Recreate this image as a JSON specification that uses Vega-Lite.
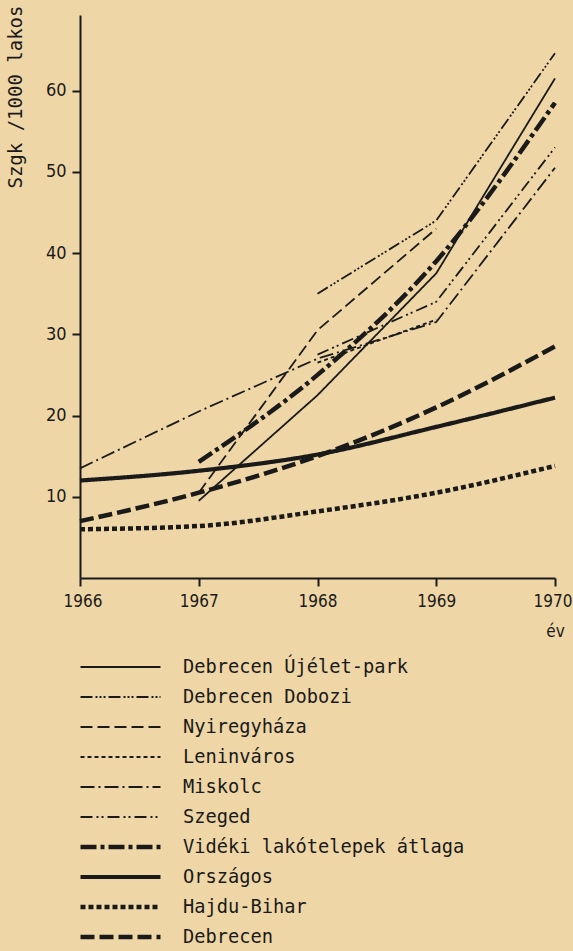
{
  "$schema": "https://vega.github.io/schema/vega-lite/v6.json",
  "autosize": "none",
  "padding": {"left": 80, "top": 15, "right": 18, "bottom": 373},
  "width": 475,
  "height": 563,
  "background": "#efd6a6",
  "config": {
    "view": {"stroke": null},
    "font": "DejaVu Sans Condensed, DejaVu Sans",
    "axis": {
      "grid": false,
      "domainColor": "#1a1a1a",
      "domainWidth": 2,
      "tickColor": "#1a1a1a",
      "tickWidth": 2,
      "tickSize": 8,
      "labelColor": "#1a1a1a",
      "titleColor": "#1a1a1a",
      "labelFont": "DejaVu Sans Condensed, DejaVu Sans",
      "titleFont": "DejaVu Sans Mono, DejaVu Sans",
      "titleFontWeight": "normal"
    }
  },
  "data": {
    "values": [
      {"series": "Debrecen Újélet-park", "year": 1967, "value": 9.5},
      {"series": "Debrecen Újélet-park", "year": 1968, "value": 22.5},
      {"series": "Debrecen Újélet-park", "year": 1969, "value": 37.5},
      {"series": "Debrecen Újélet-park", "year": 1970, "value": 61.5},
      {"series": "Debrecen Dobozi", "year": 1968, "value": 35},
      {"series": "Debrecen Dobozi", "year": 1969, "value": 44},
      {"series": "Debrecen Dobozi", "year": 1970, "value": 64.6},
      {"series": "Nyiregyháza", "year": 1967, "value": 10.5},
      {"series": "Nyiregyháza", "year": 1968, "value": 30.5},
      {"series": "Nyiregyháza", "year": 1969, "value": 43},
      {"series": "Leninváros", "year": 1968, "value": 26.5},
      {"series": "Leninváros", "year": 1969, "value": 31.8},
      {"series": "Miskolc", "year": 1966, "value": 13.5},
      {"series": "Miskolc", "year": 1967, "value": 20.5},
      {"series": "Miskolc", "year": 1968, "value": 27},
      {"series": "Miskolc", "year": 1969, "value": 31.5},
      {"series": "Miskolc", "year": 1970, "value": 50.5},
      {"series": "Szeged", "year": 1968, "value": 27.5},
      {"series": "Szeged", "year": 1969, "value": 34},
      {"series": "Szeged", "year": 1970, "value": 53},
      {"series": "Vidéki lakótelepek átlaga", "year": 1967, "value": 14.3},
      {"series": "Vidéki lakótelepek átlaga", "year": 1968, "value": 25},
      {"series": "Vidéki lakótelepek átlaga", "year": 1969, "value": 39},
      {"series": "Vidéki lakótelepek átlaga", "year": 1970, "value": 58.5},
      {"series": "Országos", "year": 1966, "value": 12},
      {"series": "Országos", "year": 1967, "value": 13.2},
      {"series": "Országos", "year": 1968, "value": 15.2},
      {"series": "Országos", "year": 1969, "value": 18.6},
      {"series": "Országos", "year": 1970, "value": 22.2},
      {"series": "Hajdu-Bihar", "year": 1966, "value": 6},
      {"series": "Hajdu-Bihar", "year": 1967, "value": 6.4},
      {"series": "Hajdu-Bihar", "year": 1968, "value": 8.2},
      {"series": "Hajdu-Bihar", "year": 1969, "value": 10.5},
      {"series": "Hajdu-Bihar", "year": 1970, "value": 13.8},
      {"series": "Debrecen", "year": 1966, "value": 7},
      {"series": "Debrecen", "year": 1967, "value": 10.5},
      {"series": "Debrecen", "year": 1968, "value": 15},
      {"series": "Debrecen", "year": 1969, "value": 21},
      {"series": "Debrecen", "year": 1970, "value": 28.5}
    ]
  },
  "encoding": {
    "x": {
      "field": "year", "type": "quantitative",
      "scale": {"domain": [1966, 1970], "nice": false, "zero": false},
      "axis": {
        "values": [1966, 1967, 1968, 1969, 1970],
        "format": "d",
        "labelFlush": true,
        "labelFlushOffset": 17,
        "labelFontSize": 17,
        "labelPadding": 7,
        "title": "év",
        "titleFont": "DejaVu Sans Condensed, DejaVu Sans",
        "titleFontSize": 17,
        "titleAnchor": "end",
        "titleAlign": "center",
        "titleBaseline": "middle",
        "titleX": 475,
        "titleY": 53
      }
    },
    "y": {
      "field": "value", "type": "quantitative",
      "scale": {"domain": [0, 69.3], "nice": false},
      "axis": {
        "values": [10, 20, 30, 40, 50, 60],
        "labelFontSize": 18,
        "labelPadding": 6,
        "title": "Szgk /1000 lakos",
        "titleFontSize": 19,
        "titleAngle": 270,
        "titleAlign": "right",
        "titleBaseline": "middle",
        "titleX": -65,
        "titleY": -10
      }
    },
    "detail": {"field": "series"},
    "strokeDash": {
      "field": "series", "type": "nominal",
      "scale": {
        "domain": ["Debrecen Újélet-park", "Debrecen Dobozi", "Nyiregyháza", "Leninváros", "Miskolc", "Szeged", "Vidéki lakótelepek átlaga", "Országos", "Hajdu-Bihar", "Debrecen"],
        "range": [[1, 0], [12, 3, 2, 2, 2, 2, 2, 3], [12, 5], [4, 3], [14, 4, 2, 4], [12, 4, 2, 3, 2, 4], [16, 4, 4, 4], [1, 0], [5, 3], [14, 5]]
      },
      "legend": {
        "orient": "none",
        "legendX": -2,
        "legendY": 642,
        "title": null,
        "padding": 0,
        "symbolType": "stroke",
        "symbolSize": 6400,
        "symbolStrokeColor": "#1a1a1a",
        "symbolFillColor": "transparent",
        "clipHeight": 20,
        "rowPadding": 10,
        "labelOffset": 20,
        "labelFontSize": 18.7,
        "labelFont": "DejaVu Sans Mono, DejaVu Sans",
        "labelColor": "#1a1a1a",
        "labelLimit": 400
      }
    },
    "strokeWidth": {
      "field": "series", "type": "nominal",
      "scale": {
        "type": "ordinal",
        "domain": ["Debrecen Újélet-park", "Debrecen Dobozi", "Nyiregyháza", "Leninváros", "Miskolc", "Szeged", "Vidéki lakótelepek átlaga", "Országos", "Hajdu-Bihar", "Debrecen"],
        "range": [1.8, 1.8, 1.8, 1.8, 1.8, 1.8, 4.5, 4.2, 4.5, 4.5]
      },
      "legend": {
        "orient": "none",
        "legendX": -2,
        "legendY": 642,
        "title": null,
        "padding": 0,
        "symbolType": "stroke",
        "symbolSize": 6400,
        "symbolStrokeColor": "#1a1a1a",
        "symbolFillColor": "transparent",
        "clipHeight": 20,
        "rowPadding": 10,
        "labelOffset": 20,
        "labelFontSize": 18.7,
        "labelFont": "DejaVu Sans Mono, DejaVu Sans",
        "labelColor": "#1a1a1a",
        "labelLimit": 400
      }
    }
  },
  "layer": [
    {
      "transform": [{"filter": {"field": "series", "oneOf": ["Debrecen Újélet-park", "Debrecen Dobozi", "Nyiregyháza", "Leninváros", "Miskolc", "Szeged"]}}],
      "mark": {"type": "line", "color": "#1a1a1a", "interpolate": "linear"}
    },
    {
      "transform": [{"filter": {"field": "series", "oneOf": ["Vidéki lakótelepek átlaga", "Országos", "Hajdu-Bihar", "Debrecen"]}}],
      "mark": {"type": "line", "color": "#1a1a1a", "interpolate": "monotone"}
    }
  ]
}
